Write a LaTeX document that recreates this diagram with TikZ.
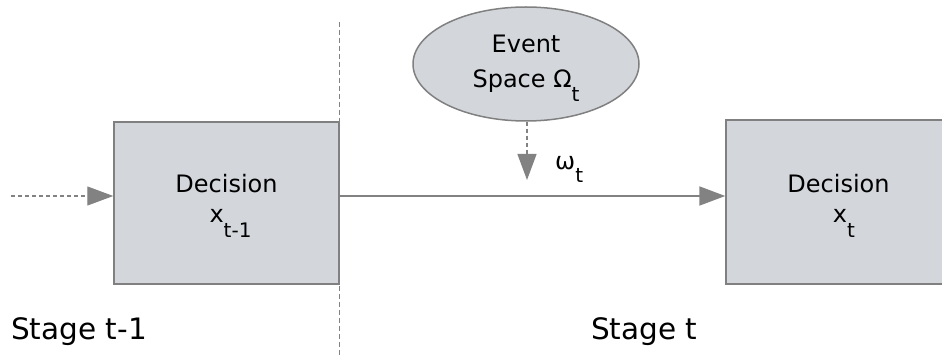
\documentclass[tikz,border=0pt]{standalone}
\usepackage{fontspec}
\setmainfont{DejaVu Sans}
\usetikzlibrary{arrows.meta,shapes.geometric}
\definecolor{boxfill}{RGB}{211,215,220}
\definecolor{edgegray}{RGB}{128,128,128}
\definecolor{linegray}{RGB}{130,130,130}
\tikzset{
  decbox/.style={draw=edgegray,line width=1.5pt,fill=boxfill,rectangle,inner sep=0pt},
  evell/.style={draw=edgegray,line width=1.5pt,fill=boxfill,ellipse,inner sep=0pt,minimum width=226pt,minimum height=114pt},
  lbl/.style={inner sep=0pt,anchor=base,font=\fontsize{24}{24}\selectfont},
  stagelbl/.style={inner sep=0pt,anchor=base west,font=\fontsize{29.5}{30}\selectfont},
  tri/.style={-{Triangle[length=26pt,width=19pt]}},
  solidarrow/.style={tri,draw=linegray,line width=2pt},
  dasharrow/.style={tri,draw=linegray,line width=1.3pt,dash pattern=on 4pt off 3pt},
  sep/.style={draw=linegray,line width=1.3pt,dash pattern=on 5pt off 3pt}
}
\newcommand{\sbt}[2]{\raisebox{#1}{\fontsize{20}{20}\selectfont #2}}
\begin{document}
\begin{tikzpicture}[x=1pt,y=-1pt]
\useasboundingbox (0,0) rectangle (942,355);
\begin{scope}
\clip (0,0) rectangle (942,355);
% boxes
\node[decbox,minimum width=225pt,minimum height=162pt] (box1) at (226.5,203) {};
\node[decbox,minimum width=226pt,minimum height=164pt] (box2) at (839,202) {};
% ellipse
\node[evell] (ev) at (526,64) {};
% separator
\coordinate (septop) at (339.5,22);
\coordinate (sepbot) at (339.5,355);
\draw[sep] (septop) -- (sepbot);
% texts
\node[lbl] (d1a) at (226.5,193) {Decision};
\node[lbl] (d1b) at (230.5,223) {x\sbt{-15pt}{t-1}};
\node[lbl] (d2a) at (838.5,193) {Decision};
\node[lbl] (d2b) at (844,223) {x\sbt{-15pt}{t}};
\node[lbl] (e1) at (526,53) {Event};
\node[lbl] (e2) at (526,88) {Space Ω\sbt{-14pt}{t}};
\node[lbl,anchor=base west] (om) at (555,170) {ω\sbt{-13pt}{t}};
\node[stagelbl] (s1) at (11,339) {Stage t-1};
\node[stagelbl] (s2) at (591,339) {Stage t};
% connectors
\coordinate (start) at (11,196);
\draw[dasharrow] (start) -- (box1.west |- start);
\draw[solidarrow] (box1.east |- start) -- (box2.west |- start);
\coordinate (drop) at (527,180);
\draw[dasharrow] (ev.south -| drop) -- (drop);
\end{scope}
\end{tikzpicture}
\end{document}
